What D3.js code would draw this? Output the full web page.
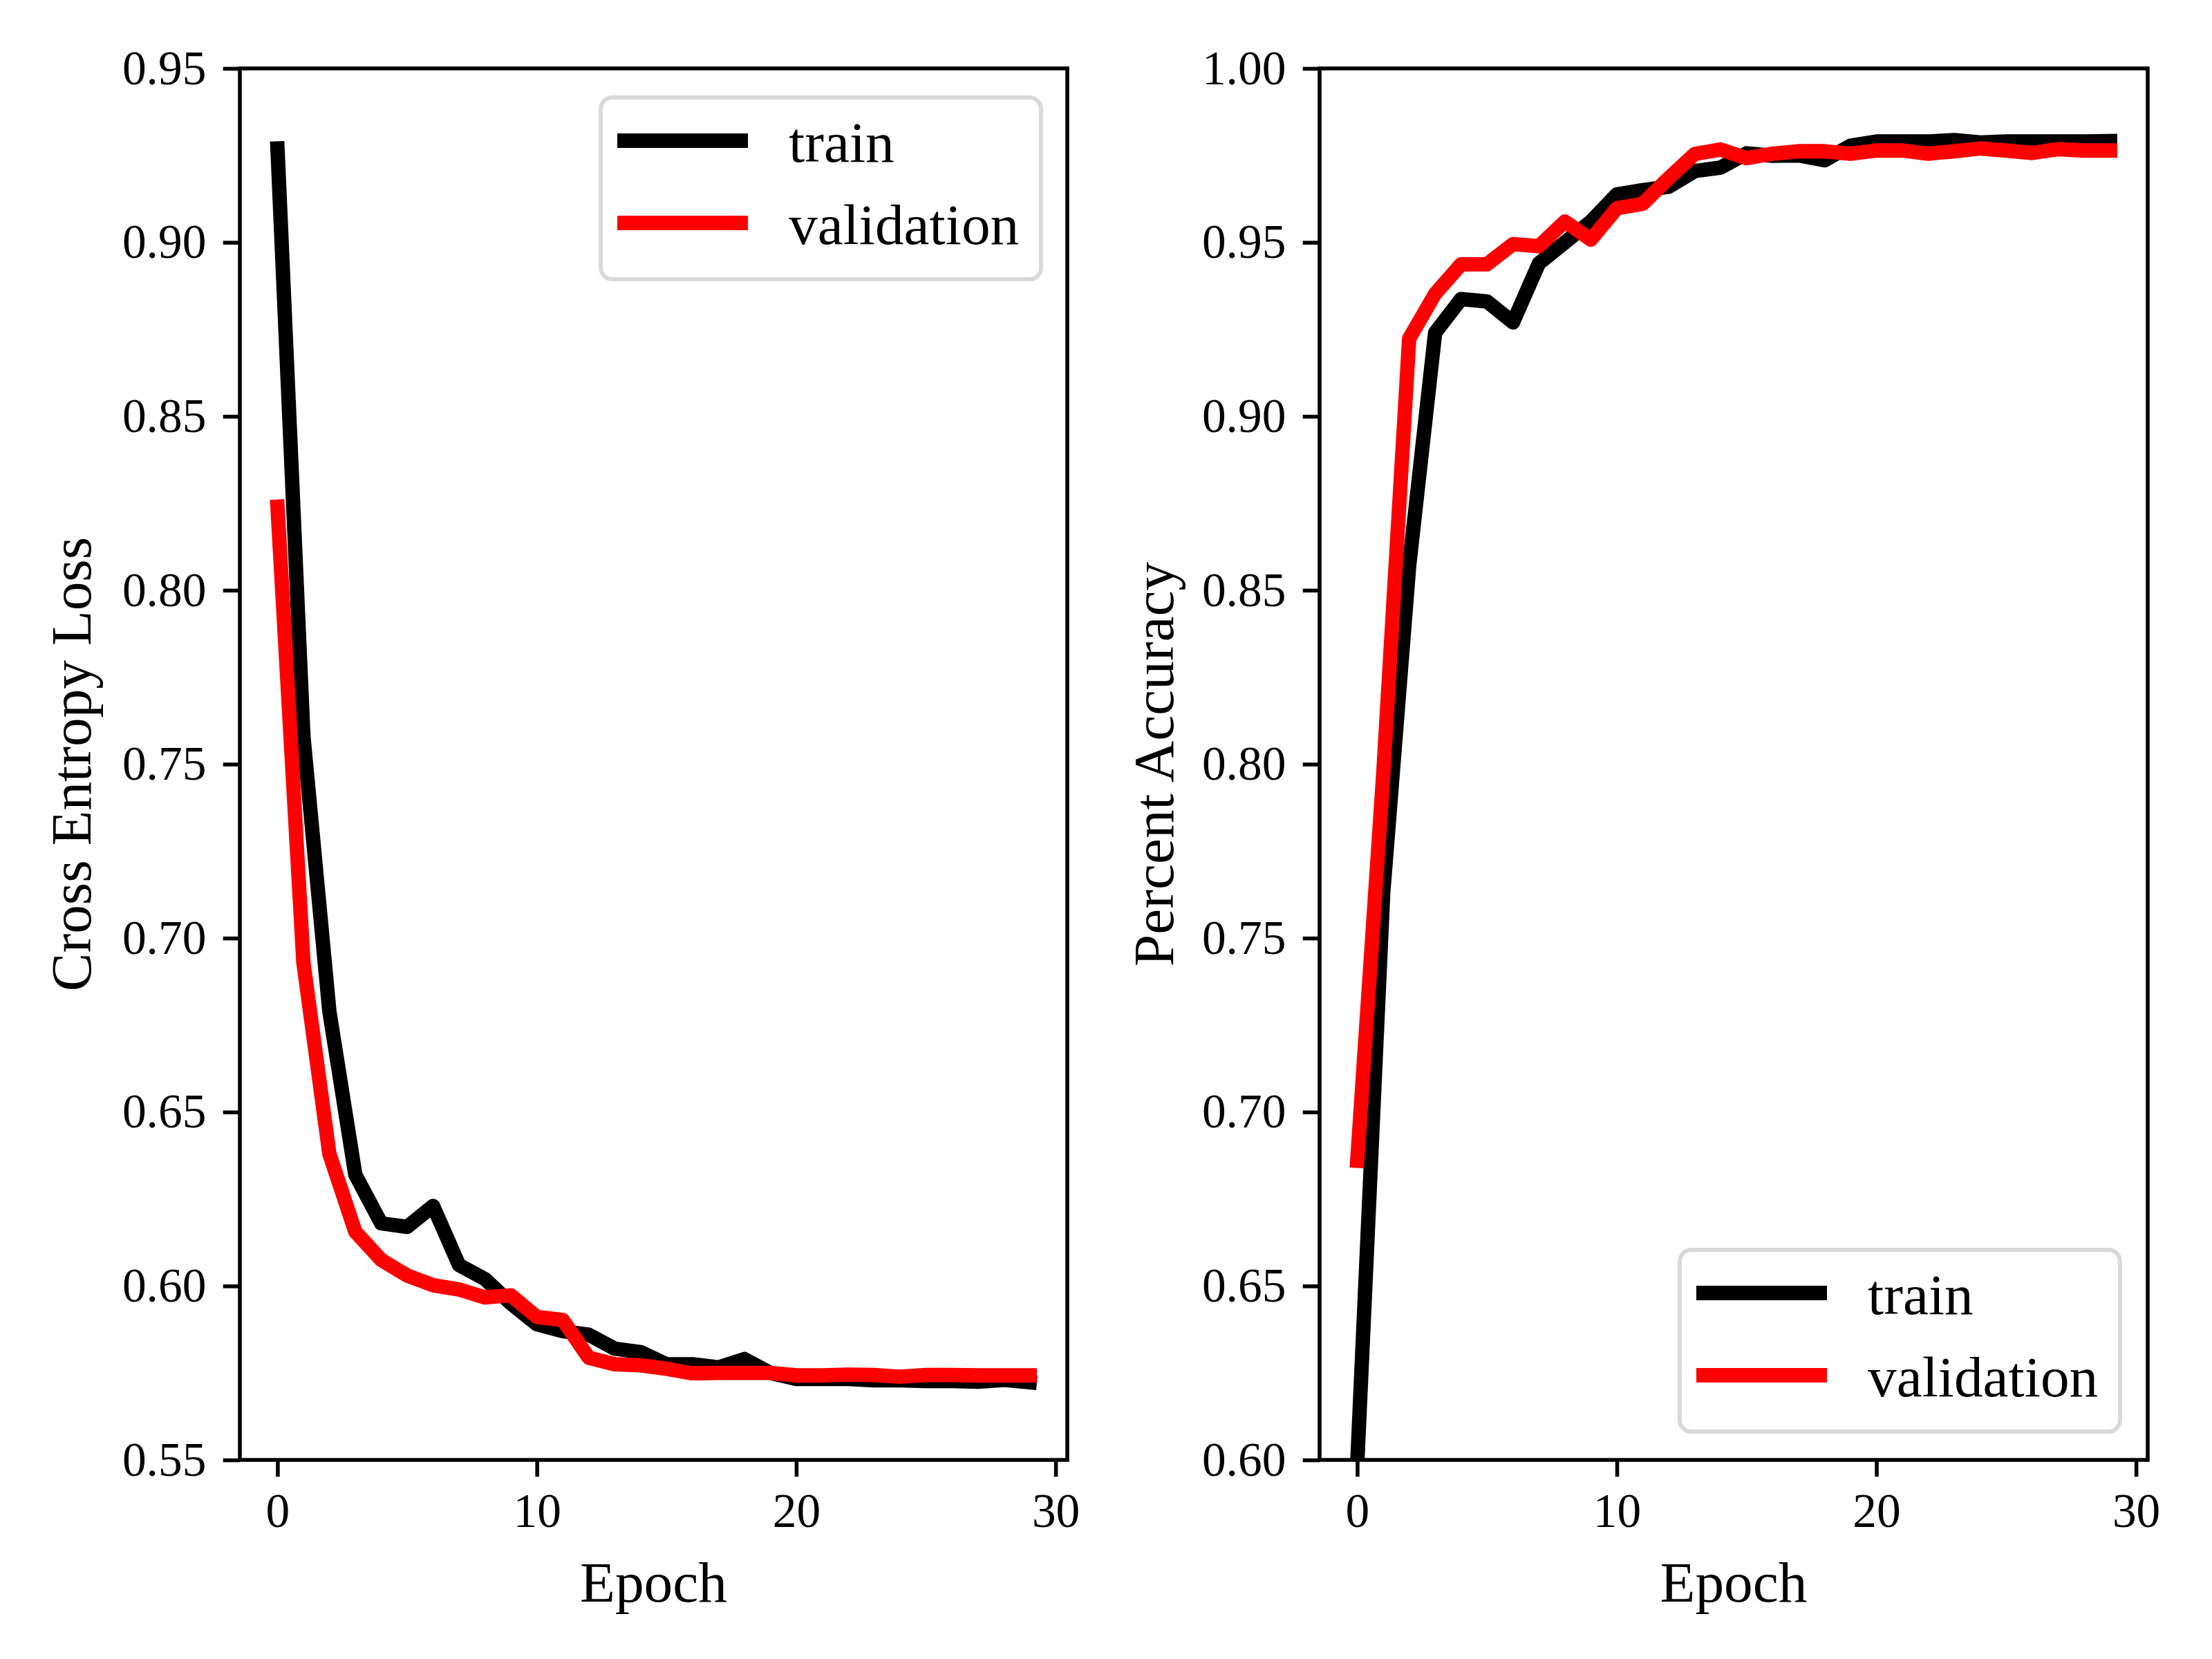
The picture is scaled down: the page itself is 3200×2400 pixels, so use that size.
<!DOCTYPE html>
<html>
<head>
<meta charset="utf-8">
<script src="https://cdn.jsdelivr.net/npm/d3@7"></script>
<style>
  html, body { margin: 0; padding: 0; background: #fff; }
  svg { display: block; }
  text { font-family: "Liberation Serif", "Times New Roman", serif; fill: #000; }
</style>
</head>
<body>
<script>
// ---------------- data ----------------
const epochs = [0,1,2,3,4,5,6,7,8,9,10,11,12,13,14,15,16,17,18,19,20,21,22,23,24,25,26,27,28,29];

const lossTrain = [0.927, 0.758, 0.679, 0.632, 0.618, 0.617, 0.623, 0.606, 0.602, 0.595,
                   0.589, 0.587, 0.586, 0.582, 0.581, 0.5775, 0.5775, 0.5766, 0.579, 0.575,
                   0.5733, 0.5733, 0.5733, 0.5729, 0.5729, 0.5727, 0.5727, 0.5725, 0.573, 0.5723];
const lossVal   = [0.824, 0.693, 0.638, 0.6156, 0.6075, 0.603, 0.6002, 0.599, 0.5967, 0.5973,
                   0.5911, 0.5902, 0.5794, 0.5775, 0.5772, 0.5762, 0.5749, 0.575, 0.575, 0.575,
                   0.5743, 0.5743, 0.5745, 0.5744, 0.5739, 0.5744, 0.5744, 0.5743, 0.5743, 0.5743];

const accTrain  = [0.599, 0.763, 0.857, 0.924, 0.9337, 0.933, 0.927, 0.944, 0.950, 0.956,
                   0.9638, 0.965, 0.966, 0.9705, 0.9715, 0.9756, 0.9749, 0.975, 0.9736, 0.9778,
                   0.979, 0.979, 0.979, 0.9794, 0.9787, 0.979, 0.979, 0.979, 0.979, 0.9791];
const accVal    = [0.686, 0.797, 0.9223, 0.9352, 0.9437, 0.9437, 0.9495, 0.9489, 0.956, 0.9508,
                   0.9598, 0.9611, 0.9685, 0.9754, 0.9767, 0.9742, 0.9755, 0.9762, 0.9762, 0.9755,
                   0.9764, 0.9764, 0.9755, 0.9762, 0.977, 0.9764, 0.9757, 0.9768, 0.9764, 0.9764];

const xTicks = [0, 10, 20, 30];
const lossTicks = [0.55, 0.60, 0.65, 0.70, 0.75, 0.80, 0.85, 0.90, 0.95];
const accTicks  = [0.60, 0.65, 0.70, 0.75, 0.80, 0.85, 0.90, 0.95, 1.00];

const seriesNames = ["train", "validation"];
const seriesColors = ["#000000", "#ff0000"];
const xLabel = "Epoch";
const lossLabel = "Cross Entropy Loss";
const accLabel = "Percent Accuracy";

// ---------------- layout ----------------
const W = 3200, H = 2400;
const PT = 500 / 72;            // px per point
const tickFont = 10 * PT;
const labelFont = 12 * PT;
const lineW = 3 * PT;
const spineW = 0.8 * PT;
const tickLen = 3.5 * PT;
const tickPad = 3.5 * PT;

const axTop = 99, axBottom = 2112;
const panels = [
  { left: 347, right: 1544, ydom: [0.55, 0.95], yticks: lossTicks, series: [lossTrain, lossVal],
    ylabel: lossLabel, ylabelX: 131, legend: { x: 869, y: 141 } },
  { left: 1909, right: 3107, ydom: [0.60, 1.00], yticks: accTicks, series: [accTrain, accVal],
    ylabel: accLabel, ylabelX: 1697, legend: { x: 2430, y: 1808 } }
];
const legW = 637, legH = 263;

const svg = d3.select("body").append("svg")
  .attr("width", W).attr("height", H)
  .attr("viewBox", `0 0 ${W} ${H}`);
svg.append("rect").attr("width", W).attr("height", H).attr("fill", "#fff");
const defs = svg.append("defs");

panels.forEach((p, pi) => {
  const x = d3.scaleLinear().domain([-1.45, 30.45]).range([p.left, p.right]);
  const y = d3.scaleLinear().domain(p.ydom).range([axBottom, axTop]);
  const g = svg.append("g");

  const clipId = "clip" + pi;
  defs.append("clipPath").attr("id", clipId)
    .append("rect").attr("x", p.left).attr("y", axTop)
    .attr("width", p.right - p.left).attr("height", axBottom - axTop);

  // lines
  const line = d3.line().x((d, i) => x(epochs[i])).y(d => y(d));
  const lg = g.append("g").attr("clip-path", `url(#${clipId})`);
  p.series.forEach((s, si) => {
    lg.append("path").datum(s)
      .attr("d", line)
      .attr("fill", "none")
      .attr("stroke", seriesColors[si])
      .attr("stroke-width", lineW)
      .attr("stroke-linejoin", "round")
      .attr("stroke-linecap", "square");
  });

  // axes
  const xAxis = d3.axisBottom(x).tickValues(xTicks).tickFormat(d3.format("d"))
    .tickSize(tickLen).tickPadding(tickPad);
  const yAxis = d3.axisLeft(y).tickValues(p.yticks).tickFormat(d3.format(".2f"))
    .tickSize(tickLen).tickPadding(tickPad);

  const gx = g.append("g").attr("transform", `translate(0,${axBottom})`).call(xAxis);
  const gy = g.append("g").attr("transform", `translate(${p.left},0)`).call(yAxis);
  [gx, gy].forEach(a => {
    a.select(".domain").remove();
    a.selectAll(".tick line").attr("stroke", "#000").attr("stroke-width", spineW);
    a.selectAll(".tick text").attr("font-size", tickFont)
      .attr("font-family", '"Liberation Serif", "Times New Roman", serif').attr("fill", "#000");
  });
  gx.selectAll(".tick text").attr("dy", null).attr("y", tickLen + tickPad + 48);
  gy.selectAll(".tick text").attr("dy", "0.32em");

  // spines
  g.append("rect")
    .attr("x", p.left).attr("y", axTop)
    .attr("width", p.right - p.left).attr("height", axBottom - axTop)
    .attr("fill", "none").attr("stroke", "#000").attr("stroke-width", spineW);

  // axis labels
  g.append("text")
    .attr("x", (p.left + p.right) / 2).attr("y", 2317)
    .attr("text-anchor", "middle").attr("font-size", labelFont)
    .text(xLabel);
  g.append("text")
    .attr("transform", `translate(${p.ylabelX},${(axTop + axBottom) / 2}) rotate(-90)`)
    .attr("text-anchor", "middle").attr("font-size", labelFont)
    .text(p.ylabel);

  // legend
  const L = g.append("g").attr("transform", `translate(${p.legend.x},${p.legend.y})`);
  L.append("rect").attr("width", legW).attr("height", legH)
    .attr("rx", 17).attr("ry", 17)
    .attr("fill", "#fff").attr("fill-opacity", 0.8)
    .attr("stroke", "#d9d9d9").attr("stroke-width", 6);
  seriesNames.forEach((name, i) => {
    const ly = 62.5 + i * 119;
    L.append("line").attr("x1", 24).attr("x2", 213).attr("y1", ly).attr("y2", ly)
      .attr("stroke", seriesColors[i]).attr("stroke-width", lineW);
    L.append("text").attr("x", 272).attr("y", ly + 30)
      .attr("font-size", labelFont).text(name);
  });
});
</script>
</body>
</html>
